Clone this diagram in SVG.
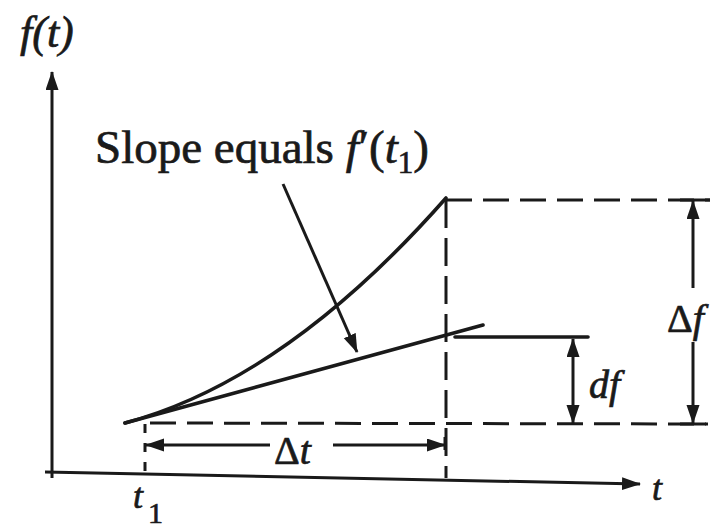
<svg xmlns="http://www.w3.org/2000/svg" width="725" height="528" viewBox="0 0 725 528">
<style>
.ln{stroke:#1a1a1a;stroke-width:3;fill:none;stroke-linecap:butt}
.cv{stroke:#1a1a1a;stroke-width:3.6;fill:none;stroke-linecap:round}
.dh{stroke:#1a1a1a;stroke-width:3;fill:none;stroke-dasharray:26 11}
.dv{stroke:#1a1a1a;stroke-width:3;fill:none;stroke-dasharray:28 10}
.tx{font-family:"Liberation Serif","Times New Roman",serif;fill:#1a1a1a;stroke:#1a1a1a;stroke-width:0.7}
.it{font-style:italic}
</style>
<defs>
<marker id="ah" markerUnits="userSpaceOnUse" markerWidth="20" markerHeight="14" refX="18" refY="6.5" orient="auto-start-reverse">
<path d="M0,0 L19,6.5 L0,13 z" fill="#1a1a1a"/>
</marker>
</defs>
<rect width="725" height="528" fill="#ffffff"/>
<g id="axes">
<line class="ln" x1="52" y1="478" x2="52" y2="72" marker-end="url(#ah)"/>
<line class="ln" x1="45" y1="472" x2="640" y2="484" marker-end="url(#ah)"/>
</g>
<g id="curves">
<path class="cv" d="M125,423 Q285.5,380 446,198"/>
<path class="cv" d="M125,423 L483,325"/>
<path class="cv" d="M455,337 L588,337"/>
</g>
<g id="guides">
<line class="dh" x1="150" y1="423" x2="708" y2="424"/>
<line class="dh" x1="446" y1="200" x2="710" y2="200"/>
<line class="dv" x1="446" y1="200" x2="446" y2="478"/>
<line class="dv" x1="145" y1="424" x2="145" y2="474" style="stroke-dasharray:9 10"/>
<line class="ln" x1="680" y1="200" x2="710" y2="200"/>
<line class="ln" x1="680" y1="424" x2="706" y2="424"/>
</g>
<g id="connectors">
<line class="ln" x1="283" y1="184" x2="357" y2="352" marker-end="url(#ah)"/>
<line class="ln" x1="693" y1="288" x2="693" y2="201" marker-end="url(#ah)"/>
<line class="ln" x1="693" y1="342" x2="693" y2="423" marker-end="url(#ah)"/>
<line class="ln" x1="573" y1="339" x2="573" y2="423" marker-start="url(#ah)" marker-end="url(#ah)"/>
<line class="ln" x1="270" y1="445" x2="146" y2="445" marker-end="url(#ah)"/>
<line class="ln" x1="333" y1="445" x2="445" y2="445" marker-end="url(#ah)"/>
<line class="ln" x1="445" y1="437" x2="445" y2="450"/>
</g>
<g id="labels">
<text class="tx it" x="20" y="47" font-size="44">f(t)</text>
<text class="tx" x="95" y="163" font-size="47">Slope equals <tspan class="it">f</tspan>′(<tspan class="it">t</tspan><tspan font-size="31" dy="10">1</tspan><tspan dy="-10">)</tspan></text>
<text class="tx" x="274" y="464" font-size="40">Δ<tspan class="it">t</tspan></text>
<text class="tx" x="667" y="332" font-size="40">Δ<tspan class="it">f</tspan></text>
<text class="tx it" x="589" y="398" font-size="40">df</text>
<text class="tx it" x="133" y="508" font-size="36">t</text>
<text class="tx" x="148" y="523" font-size="30">1</text>
<text class="tx it" x="652" y="500" font-size="36">t</text>
</g>
</svg>
